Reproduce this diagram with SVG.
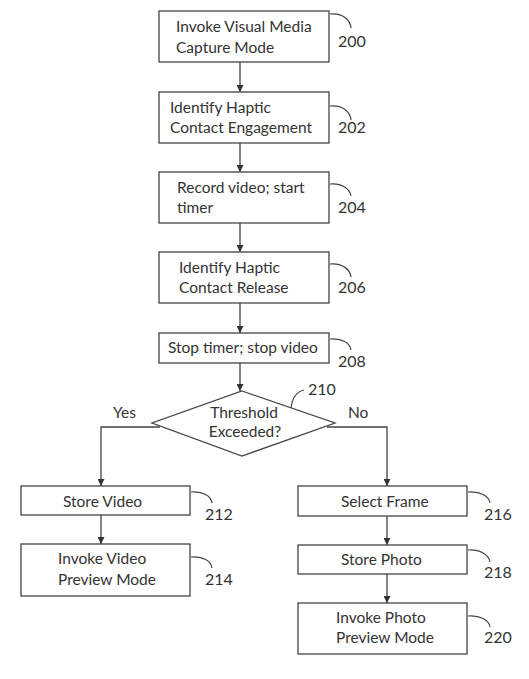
<svg xmlns="http://www.w3.org/2000/svg" width="529" height="679" viewBox="0 0 529 679">
<defs>
<marker id="ah" viewBox="0 0 10 10" refX="10" refY="5" markerWidth="7" markerHeight="7" markerUnits="userSpaceOnUse" orient="auto">
<path d="M0,0 L10,5 L0,10 z" fill="#333"/>
</marker>
<style>
.box{fill:#fff;stroke:#444;stroke-width:1.3}
.t{font-family:Lato,"Liberation Sans",sans-serif;font-size:15.5px;fill:#333}
.n{font-family:Lato,"Liberation Sans",sans-serif;font-size:16px;fill:#333}
.ld{fill:none;stroke:#444;stroke-width:1.2}
.c{fill:none;stroke:#444;stroke-width:1.3}
</style>
</defs>
<rect width="529" height="679" fill="#fff"/>
<g id="connectors">
<line class="c" x1="240" y1="62" x2="240" y2="92" marker-end="url(#ah)"/>
<line class="c" x1="240" y1="143" x2="240" y2="172" marker-end="url(#ah)"/>
<line class="c" x1="240" y1="223" x2="240" y2="252" marker-end="url(#ah)"/>
<line class="c" x1="240" y1="303" x2="240" y2="333" marker-end="url(#ah)"/>
<line class="c" x1="240" y1="363" x2="240" y2="391" marker-end="url(#ah)"/>
<polyline class="c" points="160,427 101,427 101,486" marker-end="url(#ah)"/>
<polyline class="c" points="327,427 387,427 387,486" marker-end="url(#ah)"/>
<line class="c" x1="101" y1="515" x2="101" y2="544" marker-end="url(#ah)"/>
<line class="c" x1="387" y1="516" x2="387" y2="545" marker-end="url(#ah)"/>
<line class="c" x1="387" y1="574" x2="387" y2="603" marker-end="url(#ah)"/>
<text class="t" x="113" y="418">Yes</text>
<text class="t" x="348" y="418">No</text>
</g>
<g id="n200">
<rect class="box" x="159" y="11" width="170" height="51"/>
<text class="t" x="176" y="32">Invoke Visual Media</text>
<text class="t" x="176" y="53">Capture Mode</text>
<path class="ld" d="M330,14 C342,13 350,19 351,28"/>
<text class="n" x="338" y="47">200</text>
</g>
<g id="n202">
<rect class="box" x="159" y="92" width="170" height="51"/>
<text class="t" x="170" y="113">Identify Haptic</text>
<text class="t" x="170" y="133">Contact Engagement</text>
<path class="ld" d="M330,106 C342,105 350,111 351,120"/>
<text class="n" x="338" y="133">202</text>
</g>
<g id="n204">
<rect class="box" x="159" y="172" width="170" height="51"/>
<text class="t" x="177" y="193">Record video; start</text>
<text class="t" x="177" y="213">timer</text>
<path class="ld" d="M330,184 C342,183 350,189 351,196"/>
<text class="n" x="338" y="213">204</text>
</g>
<g id="n206">
<rect class="box" x="159" y="252" width="170" height="51"/>
<text class="t" x="179" y="273">Identify Haptic</text>
<text class="t" x="179" y="293">Contact Release</text>
<path class="ld" d="M330,264 C342,263 350,269 351,277"/>
<text class="n" x="338" y="293">206</text>
</g>
<g id="n208">
<rect class="box" x="159" y="333" width="170" height="30"/>
<text class="t" x="168" y="353">Stop timer; stop video</text>
<path class="ld" d="M330,339 C342,338 350,343 351,350"/>
<text class="n" x="338" y="367">208</text>
</g>
<g id="n210">
<polygon class="box" points="242,391 335,423 242,456 152,423"/>
<text class="t" x="244" y="418" text-anchor="middle">Threshold</text>
<text class="t" x="245" y="437" text-anchor="middle">Exceeded?</text>
<path class="ld" d="M291,408 C292,399 296,392 304,390"/>
<text class="n" x="308" y="395">210</text>
</g>
<g id="n212">
<rect class="box" x="21" y="486" width="169" height="29"/>
<text class="t" x="63" y="507">Store Video</text>
<path class="ld" d="M191,492 C203,491 211,496 212,503"/>
<text class="n" x="205" y="520">212</text>
</g>
<g id="n214">
<rect class="box" x="21" y="544" width="169" height="52"/>
<text class="t" x="58" y="564">Invoke Video</text>
<text class="t" x="58" y="585">Preview Mode</text>
<path class="ld" d="M191,557 C203,556 211,561 212,568"/>
<text class="n" x="205" y="585">214</text>
</g>
<g id="n216">
<rect class="box" x="298" y="486" width="169" height="30"/>
<text class="t" x="341" y="507">Select Frame</text>
<path class="ld" d="M468,492 C480,491 489,496 490,503"/>
<text class="n" x="484" y="520">216</text>
</g>
<g id="n218">
<rect class="box" x="298" y="545" width="169" height="29"/>
<text class="t" x="341" y="565">Store Photo</text>
<path class="ld" d="M468,550 C480,549 489,555 490,562"/>
<text class="n" x="484" y="578">218</text>
</g>
<g id="n220">
<rect class="box" x="298" y="603" width="169" height="51"/>
<text class="t" x="336" y="623">Invoke Photo</text>
<text class="t" x="336" y="643">Preview Mode</text>
<path class="ld" d="M468,616 C480,615 489,620 490,627"/>
<text class="n" x="484" y="643">220</text>
</g>
</svg>
